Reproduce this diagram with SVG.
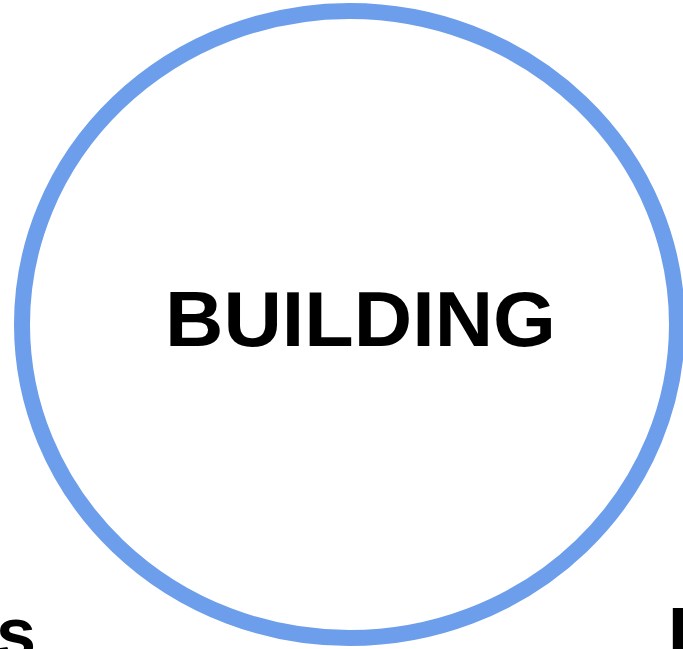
<svg xmlns="http://www.w3.org/2000/svg" width="683" height="649" viewBox="0 0 683 649">
  <style>
    .lbl { font-family: "Liberation Sans", Arial, sans-serif; font-weight: bold; fill: #000000; }
    .ring { fill: #ffffff; stroke: #6d9eeb; stroke-width: 16; }
  </style>
  <rect x="0" y="0" width="683" height="649" fill="#ffffff"/>
  <g id="connectors"></g>
  <g id="node-building">
    <ellipse class="ring" cx="349.5" cy="324.5" rx="327.5" ry="313.5"/>
    <text class="lbl" x="165" y="346" font-size="78" textLength="391" lengthAdjust="spacingAndGlyphs">BUILDING</text>
  </g>
  <g id="node-left">
    <text class="lbl" x="36" y="658" font-size="72" text-anchor="end">s</text>
  </g>
  <g id="node-right">
    <text class="lbl" x="668" y="658" font-size="72">I</text>
  </g>
</svg>
